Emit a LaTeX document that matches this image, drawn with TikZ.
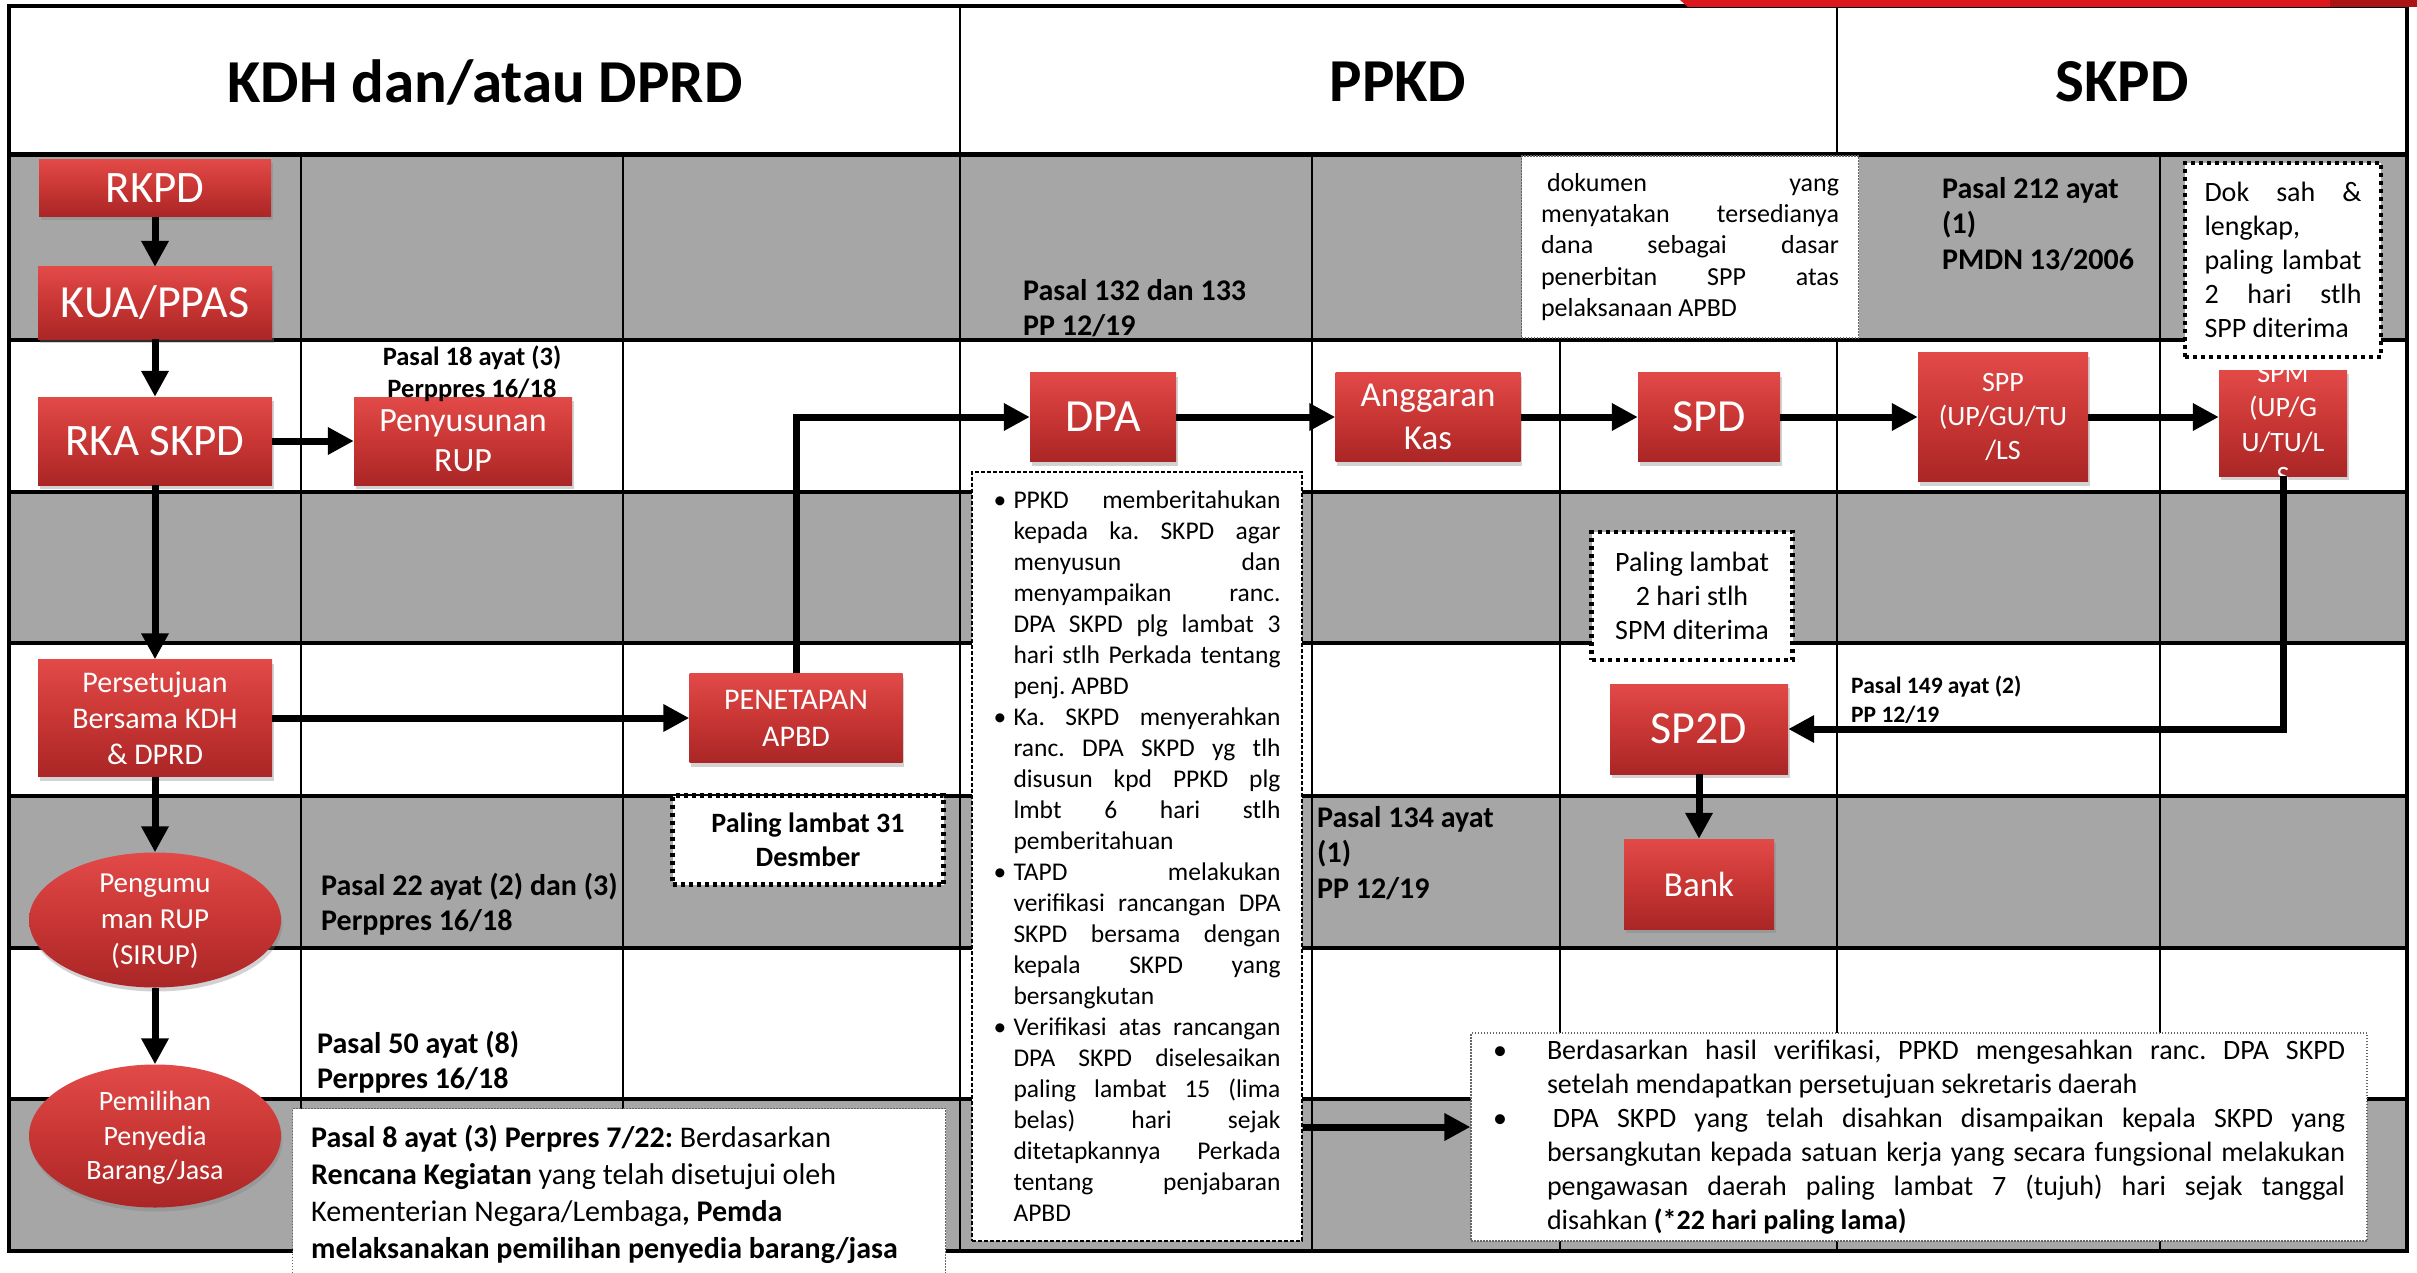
\documentclass[tikz,border=0pt]{standalone}
\usepackage{fontspec}
\setmainfont{Carlito}
\usetikzlibrary{arrows.meta,shapes.geometric,shadows,calc}
\definecolor{gridgray}{RGB}{166,166,166}
\definecolor{rtop}{RGB}{226,74,72}
\definecolor{rmid}{RGB}{200,54,52}
\definecolor{rbot}{RGB}{170,38,38}
\definecolor{topred}{RGB}{220,24,28}
\definecolor{topdark}{RGB}{170,20,20}
\newcommand\fs[2]{\fontsize{#1}{#2}\selectfont}
\newcommand\jl[2]{\makebox[#1][s]{#2}}
\newcommand\st{\rule{0pt}{0.8em}}
\newcommand\kb{\makebox[20pt][l]{•}}
\newcommand\ki{\makebox[20pt]{}}
\newcommand\rb{\makebox[54pt][l]{•}}
\newcommand\ri{\makebox[54pt]{}}
\frenchspacing
\begin{document}
\begin{tikzpicture}[x=1pt,y=-1pt,
  every node/.style={inner sep=0pt},
  rbox/.style={rectangle, top color=rtop, bottom color=rbot, middle color=rmid, text=white, align=center,
    drop shadow={shadow xshift=1.5pt,shadow yshift=-4pt,opacity=0.35}},
  rell/.style={ellipse, top color=rtop, bottom color=rbot, middle color=rmid,
    drop shadow={shadow xshift=1.5pt,shadow yshift=-4pt,opacity=0.35}},
  wtxt/.style={text=white, align=center},
  arr/.style={line width=7pt, -{Triangle[length=26pt,width=26pt]}},
  hline/.style={line width=4pt},
  vline/.style={line width=2.5pt},
  lbl/.style={anchor=north west, align=left, font=\bfseries\fs{30}{35.5}},
  ddot/.style={draw, line width=4.5pt, dash pattern=on 4pt off 4pt, fill=white},
  tdot/.style={draw=black!60, line width=1.2pt, dash pattern=on 1.5pt off 1.5pt, fill=white},
  tdash/.style={draw, line width=1.5pt, dash pattern=on 4pt off 2pt, fill=white},
  head/.style={font=\bfseries\fs{61}{72}}
]
\useasboundingbox (0,0) rectangle (2417,1273);
\fill[white] (0,0) rectangle (2417,1273);
% gray rows
\fill[gridgray] (9,155) rectangle (2407,340);
\fill[gridgray] (9,492) rectangle (2407,643);
\fill[gridgray] (9,796) rectangle (2407,948);
\fill[gridgray] (9,1099) rectangle (2407,1251);
% horizontal lines
\foreach \yy in {340,492,643,796,948,1099} \draw[hline] (9,\yy) -- (2407,\yy);
\draw[line width=5pt] (9,155) -- (2407,155);
% vertical lines
\foreach \xx in {301,623,960,1312,1560,1837,2160} \draw[vline] (\xx,155) -- (\xx,1251);
\draw[vline] (960,6) -- (960,155);
\draw[vline] (1837,6) -- (1837,155);
\draw[line width=4pt] (9,6) rectangle (2407,1251);
% red bar at top
\fill[topred] (1680,0) -- (2417,0) -- (2417,7) -- (1688,7) -- cycle;
\fill[topdark] (2330,0) rectangle (2417,7);

% headers
\node[head] (hkdh) at (485,82) {KDH dan/atau DPRD};
\node[head] (hppkd) at (1398,82) {PPKD};
\node[head] (hskpd) at (2122,82) {SKPD};

% left column boxes
\node[rbox, minimum width=232pt, minimum height=57pt, font=\fs{45}{54}] (rkpd) at (155,188) {RKPD};
\node[rbox, minimum width=234pt, minimum height=72pt, font=\fs{46}{55}] (kua) at (155,303) {KUA/PPAS};
\node[rbox, minimum width=234pt, minimum height=88pt, font=\fs{45}{54}] (rka) at (155,441) {RKA SKPD};
\node[rbox, minimum width=218pt, minimum height=88pt, font=\fs{34}{40}] (rup) at (463,441) {Penyusunan\\RUP};
\node[rbox, minimum width=234pt, minimum height=117pt, font=\fs{30}{36}] (setuju) at (155,718) {Persetujuan\\Bersama KDH\\\& DPRD};
\node[rbox, minimum width=213pt, minimum height=89pt, font=\fs{30}{37}] (tetap) at (796,718) {PENETAPAN\\APBD};
\node[rell, minimum width=252pt, minimum height=135pt] (umum) at (155,920) {};
\node[wtxt, font=\fs{29}{36}] (umumtxt) at (155,921) {Pengumu\\man RUP\\(SIRUP)};
\node[rell, minimum width=252pt, minimum height=143pt] (pilih) at (155,1136) {};
\node[wtxt, font=\fs{28}{34.5}] (pilihtxt) at (155,1138) {Pemilihan\\Penyedia\\Barang/Jasa};

% right flow boxes
\node[rbox, minimum width=146pt, minimum height=89pt, font=\fs{46}{55}] (dpa) at (1103,417) {DPA};
\node[rbox, minimum width=185pt, minimum height=89pt, font=\fs{35}{43}] (kas) at (1428,417) {Anggaran\\Kas};
\node[rbox, minimum width=142pt, minimum height=89pt, font=\fs{46}{55}] (spd) at (1709,417) {SPD};
\node[rbox, minimum width=170pt, minimum height=129pt, font=\fs{28}{34}] (spp) at (2003,417) {SPP\\(UP/GU/TU\\/LS};
\node[rbox, minimum width=128pt, minimum height=106pt] (spm) at (2283,423) {};
\node[wtxt, font=\fs{28}{34.5}] (spmtxt) at (2283,425) {SPM\\(UP/G\\U/TU/L\\S};
\node[rbox, minimum width=178pt, minimum height=90pt, font=\fs{46}{55}] (sp2d) at (1699,729) {SP2D};
\node[rbox, minimum width=150pt, minimum height=90pt, font=\fs{35}{43}] (bank) at (1699,884) {Bank};

% dotted note boxes
\node[ddot, minimum width=201pt, minimum height=128pt, align=center, font=\fs{28}{34}] (pl2) at (1692,596) {Paling lambat\\2 hari stlh\\SPM diterima};
\node[ddot, minimum width=271pt, minimum height=89pt, align=center, font=\bfseries\fs{28}{34.5}] (pl31) at (808,840) {Paling lambat 31\\Desmber};
\node[ddot, minimum width=196pt, minimum height=194pt, align=left, font=\fs{28}{34}] (doksah) at (2283,260)
 {\jl{157pt}{Dok sah \&}\\lengkap,\\\jl{157pt}{paling lambat}\\\jl{157pt}{2 hari stlh}\\SPP diterima};
\node[tdot, minimum width=337pt, minimum height=182pt, align=left, font=\fs{26}{31.3}] (dok) at (1690,247)
 {\jl{298pt}{\hspace{6pt}dokumen yang}\\\jl{298pt}{menyatakan tersedianya}\\\jl{298pt}{dana sebagai dasar}\\\jl{298pt}{penerbitan SPP atas}\\pelaksanaan APBD};

% big dashed note
\node[tdash, minimum width=330pt, minimum height=769pt, align=left, font=\fs{25.5}{31}] (ket) at (1137,856.5)
 {\kb\jl{267pt}{PPKD memberitahukan}\\
  \ki\jl{267pt}{kepada ka. SKPD agar}\\
  \ki\jl{267pt}{menyusun dan}\\
  \ki\jl{267pt}{menyampaikan ranc.}\\
  \ki\jl{267pt}{DPA SKPD plg lambat 3}\\
  \ki\jl{267pt}{hari stlh Perkada tentang}\\
  \ki penj. APBD\\
  \kb\jl{267pt}{Ka. SKPD menyerahkan}\\
  \ki\jl{267pt}{ranc. DPA SKPD yg tlh}\\
  \ki\jl{267pt}{disusun kpd PPKD plg}\\
  \ki\jl{267pt}{lmbt 6 hari stlh}\\
  \ki pemberitahuan\\
  \kb\jl{267pt}{TAPD melakukan}\\
  \ki\jl{267pt}{verifikasi rancangan DPA}\\
  \ki\jl{267pt}{SKPD bersama dengan}\\
  \ki\jl{267pt}{kepala SKPD yang}\\
  \ki bersangkutan\\
  \kb\jl{267pt}{Verifikasi atas rancangan}\\
  \ki\jl{267pt}{DPA SKPD diselesaikan}\\
  \ki\jl{267pt}{paling lambat 15 (lima}\\
  \ki\jl{267pt}{belas) hari sejak}\\
  \ki\jl{267pt}{ditetapkannya Perkada}\\
  \ki\jl{267pt}{tentang penjabaran}\\
  \ki APBD};

% right note
\node[tdot, minimum width=896pt, minimum height=208pt, align=left, font=\fs{28}{34}] (rnote) at (1919,1137)
 {\rb\jl{798pt}{Berdasarkan hasil verifikasi, PPKD mengesahkan ranc. DPA SKPD}\\
  \ri setelah mendapatkan persetujuan sekretaris daerah\\
  \rb\jl{798pt}{\hspace{6pt}DPA SKPD yang telah disahkan disampaikan kepala SKPD yang}\\
  \ri\jl{798pt}{bersangkutan kepada satuan kerja yang secara fungsional melakukan}\\
  \ri\jl{798pt}{pengawasan daerah paling lambat 7 (tujuh) hari sejak tanggal}\\
  \ri disahkan \textbf{(*22 hari paling lama)}};

% Pasal 8 box
\node[tdot, minimum width=653pt, minimum height=175pt, anchor=north west] (p8box) at (292,1108) {};
\node[anchor=north west, align=left, font=\fs{30}{37}] (p8txt) at (311,1123)
 {\st\textbf{Pasal 8 ayat (3) Perpres 7/22:} Berdasarkan\\
  \textbf{Rencana Kegiatan} yang telah disetujui oleh\\
  Kementerian Negara/Lembaga\textbf{, Pemda}\\
  \textbf{melaksanakan pemilihan penyedia barang/jasa}};

% labels
\node[anchor=north, align=center, font=\bfseries\fs{26.5}{32}] (p18) at (472,344) {\st Pasal 18 ayat (3)\\Perppres 16/18};
\node[lbl] (p132) at (1023,276) {\st Pasal 132 dan 133\\PP 12/19};
\node[lbl] (p212) at (1942,174) {\st Pasal 212 ayat\\(1)\\PMDN 13/2006};
\node[lbl] (p22) at (321,871) {\st Pasal 22 ayat (2) dan (3)\\Perppres 16/18};
\node[lbl] (p50) at (317,1029) {\st Pasal 50 ayat (8)\\Perppres 16/18};
\node[lbl] (p134) at (1317,803) {\st Pasal 134 ayat\\(1)\\PP 12/19};
\node[lbl, font=\bfseries\fs{23.5}{29}] (p149) at (1851,674) {\st Pasal 149 ayat (2)\\PP 12/19};

% connectors
\draw[arr] (rkpd) -- (kua);
\draw[arr] (kua) -- (rka);
\draw[arr] (rka) -- (rup);
\draw[arr] (rka) -- (setuju);
\draw[arr] (setuju) -- (tetap);
\draw[arr] (setuju) -- (umum);
\draw[arr] (umum) -- (pilih);
\draw[arr] (tetap.north) |- (dpa.west);
\draw[arr] (dpa) -- (kas);
\draw[arr] (kas) -- (spd);
\draw[arr] (spd) -- (spp);
\draw[arr] (spp.east) -- (spp.east -| spm.west);
\draw[arr] (spm.south) |- (sp2d.east);
\draw[arr] (sp2d) -- (bank);
\coordinate (ya) at (0,1127);
\draw[arr] (ket.east |- ya) -- (rnote.west |- ya);
\end{tikzpicture}
\end{document}
